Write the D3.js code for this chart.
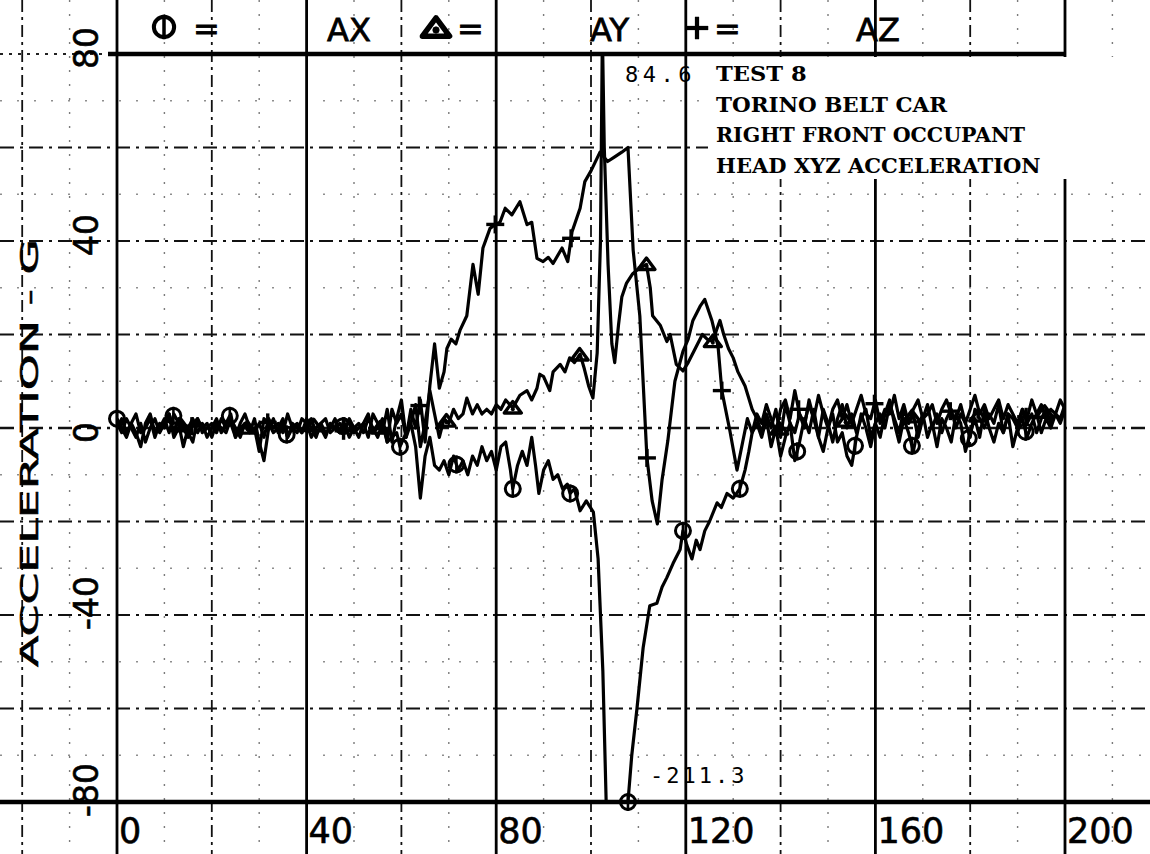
<!DOCTYPE html>
<html>
<head>
<meta charset="utf-8">
<script src="https://cdn.jsdelivr.net/npm/d3@7"></script>
<style>
html, body { margin: 0; padding: 0; background: #fff; }
svg { display: block; }
</style>
</head>
<body>
<svg id="chart" width="1150" height="854"></svg>
<script>
// quiet stretches are sampled every 1 ms, the impact pulse is given as [ms, g]
var tailStart = 135;

var axLead = [2, 0, -2, 1, -1, -4, 1, 3, -1, 0, 2, -1, 3, 1, -4, 0, 2, -1, 1, -2,
	0, 2, -1, 1, 3, -2, 0, 1, -1, 2, -3, -7, 0, 2, -1, 1, -2, 0, 1, -1,
	2, 0, -2, 1, -1, 0, 2, -1, 1, -2, 0, 1, -1, 2, 0, -2, 1, -3];
var axPulse = [[58, -2], [59, -1], [59.7, -4], [61, -1], [62, 1], [63, -4], [64, -15], [65, -6], [66, -2],
	[67, -8], [68, -9], [69, -7], [70, -10], [71, -6], [72, -9], [73, -7], [74, -10], [75, -6], [76, -8],
	[77, -4], [78, -7], [79, -5], [80, -9], [81, -4], [82, -3], [83, -9], [83.5, -13], [84.5, -8],
	[85.5, -5], [86.5, -8], [87.5, -2], [88.3, -8], [89, -14], [90, -9], [91, -7], [92, -11], [93, -10],
	[94, -13], [95, -12], [95.6, -14], [96.5, -13], [97.7, -17.7], [99, -15.6], [100.5, -18], [101.5, -28],
	[102.5, -52], [103.2, -80], [104, -130], [105, -190], [106, -211.3], [107, -170], [107.8, -80],
	[108.6, -70], [109.7, -60], [111, -47], [112.4, -38], [113.9, -37.5], [115, -34], [116, -32],
	[117.3, -29], [118.8, -26], [119.4, -22], [120.2, -25], [121.3, -28], [122.2, -24], [123, -26],
	[124, -22], [125, -20], [126.6, -16], [127.5, -17], [128.7, -14], [130, -15], [131.4, -13],
	[132.5, -9], [133.3, -5], [134, -1]];
var axTail = [1, -2, 2, -4, 0, -6, -2, 1, -7, -3, 2, -1, 4, -2, -5, 0, 3, -3, -1, -6,
	-8, -2, 3, 0, -4, 1, -2, 3, 6, 1, -3, 2, -1, -5, 0, 3, -2, 1, -4, 2,
	0, -3, 3, 1, -5, -1, 2, -2, 4, 0, -3, 1, -1, 3, -4, 0, 2, -2, 1, 3,
	-1, 2, 0, 3, 1, 4];

var ayLead = [1, -1, 2, 0, -2, 1, -3, 0, 2, -1, 1, 3, -2, 0, 1, -1, -3, 2, 0, 1,
	-2, 1, 0, -1, 2, 0, -2, 1, -1, 0, -5, 2, 1, -1, 0, 2, -2, 1, 0, -1,
	1, 2, -1, 0, -2, 1, 0, -1, 2, 1, -1, 0, 1, -2, 3, 1, -1, 4, -3, 2,
	6, -2, 1, 5, -4];
var ayPulse = [[65, 1], [66, 8], [67, 3], [68, -2], [69, 2], [70, 1], [71, 4], [72, 2], [73, 3], [73.8, 6.4],
	[75, 3], [76, 5], [77, 3], [78, 4], [79, 3], [80, 5], [81, 4], [82, 6], [83.5, 4.3], [85, 7], [86.5, 8],
	[87.5, 6], [88.6, 8.5], [89.2, 11.5], [90, 11], [91.3, 8], [92, 12], [93.5, 13.6], [94.5, 12],
	[95.5, 15], [96.5, 14], [97.7, 15.8], [98.5, 13], [99.5, 9], [100.4, 6.4], [101.3, 16], [102, 40],
	[102.4, 84.6], [102.8, 60], [103.6, 35], [104.4, 18], [105, 14], [105.8, 22], [106.5, 28],
	[107.5, 31], [108.8, 33], [110, 34], [111.7, 35], [112.5, 30], [113, 24], [114.6, 22], [116, 18.5],
	[116.7, 20], [118, 13.6], [119.4, 12.2], [120.5, 14], [122, 17], [123.5, 20], [124.5, 19],
	[125.7, 18.5], [126.5, 21], [127.2, 23], [128, 20], [129, 17], [130, 15], [131, 12], [132.5, 9], [134, 4]];
var ayTail = [2, -1, 3, 0, 4, -2, 5, 1, -1, 3, 0, 6, 2, -2, 4, 1, -3, 2, 5, 0,
	3, -1, 2, 4, -2, 1, 3, 0, 5, 2, -1, 4, 1, 3, -2, 2, 5, 0, 3, -1,
	2, 4, 0, 3, 1, -2, 4, 2, 0, 3, 1, 5, -1, 3, 2, 0, 4, 1, 3, -1,
	2, 4, 1, 3, 2, 5];

var azLead = [0, 2, -1, 1, 3, -1, 0, 2, -2, 1, 0, 3, -1, 2, 0, -2, 1, 2, -1, 0,
	1, -1, 2, 0, 1, -2, 1, 3, 0, -1, 1, -2, 2, 0, 1, -1, 3, 0, -1, 2,
	1, -2, 0, 1, 2, -1, 0, 1, -1, 2, 0, -2, 1, 3, -1, 0, 2, -3, 4, 1];
var azPulse = [[60, 3], [61, -2], [62, 4], [63, 0], [64, 6], [65, -3], [66, 9], [67, 18], [68, 8.5], [69, 12],
	[69.6, 17], [70.5, 19], [71.5, 18], [72.4, 21], [73.8, 24], [75.1, 35], [76.2, 28.6], [77.2, 38.5],
	[78.7, 42.7], [79.7, 43.5], [80.8, 44], [81.9, 47], [83.3, 45.6], [85, 48.4], [86.5, 43.5], [87.5, 44],
	[88.6, 36.3], [89.9, 35.6], [91, 36.5], [92, 35.2], [93.9, 38.5], [95.1, 35.6], [96, 42], [97.7, 47],
	[98.7, 52.7], [100, 55], [101.9, 59], [103.5, 57], [105, 58], [106.5, 59], [107.8, 60], [108.9, 38],
	[110.3, 24], [111.8, -6.4], [112.9, -15.6], [114, -20.5], [115, -11], [116.2, -2.8], [117.7, 10],
	[119.4, 16.4], [120.5, 19], [121.5, 23], [123, 26], [124, 27.5], [125.5, 23], [126.8, 17.5],
	[127.6, 8], [129.3, -0.6], [130.8, -9], [132, -3], [133, 2], [134, -1]];
var azTail = [3, 1, 5, 2, -1, 4, 6, 2, 8, 3, 1, 5, 2, 7, 3, 0, 4, 6, 2, 5,
	1, 4, 7, 3, 2, 6, 1, 4, 3, 7, 2, 5, 1, 4, 6, 2, 3, 5, 1, 4,
	6, 3, 2, 5, 1, 4, 7, 3, 5, 2, 4, 6, 2, 5, 3, 1, 4, 2, 6, 3,
	5, 2, 4, 3, 6, 4];

// symbol positions along each trace (ms)
var axMarks = [0, 11.9, 23.8, 35.8, 47.7, 59.7, 71.6, 83.5, 95.6, 107.8, 119.4, 131.4, 143.5, 155.7, 167.7, 179.7, 191.7];
var ayMarks = [13.5, 27.5, 41.5, 55.5, 69.5, 83.5, 97.6, 111.7, 125.7, 139.7, 153.7, 167.7, 181.7, 195.7];
var azMarks = [15.8, 31.8, 47.8, 63.8, 79.8, 95.8, 111.8, 127.6, 143.8, 159.8, 175.8, 191.8];

var xTicks = [0, 40, 80, 120, 160, 200];
var yTicks = [80, 40, 0, -40, -80];
var peakText = "84.6";
var minText = "-211.3";
var titleLines = ["TEST 8", "TORINO BELT CAR", "RIGHT FRONT OCCUPANT", "HEAD XYZ ACCELERATION"];

var svg = d3.select("#chart");
var W = 1150, H = 854;

var x = d3.scaleLinear().domain([0, 200]).range([117, 1065]);
var y = d3.scaleLinear().domain([-80, 80]).range([802, 54]);

function build(lead, pulse, tail) {
	var pts = lead.map(function(g, i) { return [i, g]; });
	pts = pts.concat(pulse);
	tail.forEach(function(g, i) { pts.push([tailStart + i, g]); });
	return pts;
}

var series = [
	{ name: "AX", pts: build(axLead, axPulse, axTail), marks: axMarks, sym: "circle" },
	{ name: "AY", pts: build(ayLead, ayPulse, ayTail), marks: ayMarks, sym: "tri" },
	{ name: "AZ", pts: build(azLead, azPulse, azTail), marks: azMarks, sym: "plus" }
];

function valueAt(pts, t) {
	var i = d3.bisector(function(d) { return d[0]; }).left(pts, t);
	if (i <= 0) return pts[0][1];
	if (i >= pts.length) return pts[pts.length - 1][1];
	var a = pts[i - 1], b = pts[i];
	return a[1] + (b[1] - a[1]) * (t - a[0]) / (b[0] - a[0]);
}

// ---- paper grid
var grid = svg.append("g").attr("class", "grid");

var faintX = d3.range(-10, 215, 20);
grid.selectAll("line.fx").data(faintX).enter().append("line")
	.attr("x1", function(d) { return x(d); }).attr("x2", function(d) { return x(d); })
	.attr("y1", 0).attr("y2", H)
	.attr("stroke", "#444").attr("stroke-width", 1.4)
	.attr("stroke-dasharray", "2,12").attr("opacity", 0.7);

var faintY = [70, 50, 30, 10, -10, -30, -50, -70];
grid.selectAll("line.fy").data(faintY).enter().append("line")
	.attr("x1", 0).attr("x2", W)
	.attr("y1", function(d) { return y(d); }).attr("y2", function(d) { return y(d); })
	.attr("stroke", "#444").attr("stroke-width", 1.4)
	.attr("stroke-dasharray", "2,15").attr("opacity", 0.6);

var midX = [-20, 20, 60, 100, 140, 180, 220];
grid.selectAll("line.mx").data(midX).enter().append("line")
	.attr("x1", function(d) { return x(d); }).attr("x2", function(d) { return x(d); })
	.attr("y1", 0).attr("y2", H)
	.attr("stroke", "#111").attr("stroke-width", 1.8)
	.attr("stroke-dasharray", "12,5,3,5");

var midY = [60, 40, 20, 0, -20, -40, -60];
grid.selectAll("line.my").data(midY).enter().append("line")
	.attr("x1", 0).attr("x2", W)
	.attr("y1", function(d) { return y(d); }).attr("y2", function(d) { return y(d); })
	.attr("stroke", "#111")
	.attr("stroke-width", function(d) { return d === 0 ? 2.6 : 1.9; })
	.attr("stroke-dasharray", "14,6,3,6");

grid.selectAll("line.major").data(xTicks).enter().append("line")
	.attr("x1", function(d) { return x(d); }).attr("x2", function(d) { return x(d); })
	.attr("y1", 0).attr("y2", H)
	.attr("stroke", "#000").attr("stroke-width", 2.8);

// top and bottom frame lines
grid.append("line").attr("x1", 0).attr("x2", x(0) - 9)
	.attr("y1", y(80)).attr("y2", y(80))
	.attr("stroke", "#222").attr("stroke-width", 1.8).attr("stroke-dasharray", "3,6");
grid.append("line").attr("x1", x(0) - 9).attr("x2", x(200))
	.attr("y1", y(80)).attr("y2", y(80))
	.attr("stroke", "#000").attr("stroke-width", 4.5);
grid.append("line").attr("x1", 0).attr("x2", W)
	.attr("y1", y(-80)).attr("y2", y(-80))
	.attr("stroke", "#000").attr("stroke-width", 4.5);

// title label pasted over the grid
svg.append("rect").attr("x", 708).attr("y", y(80) + 3)
	.attr("width", W - 708).attr("height", 122).attr("fill", "#fff");

// ---- traces
svg.append("clipPath").attr("id", "plotClip")
	.append("rect").attr("x", x(0)).attr("y", y(80))
	.attr("width", x(200) - x(0)).attr("height", y(-80) - y(80));

var line = d3.line()
	.x(function(d) { return x(d[0]); })
	.y(function(d) { return y(d[1]); });

var traces = svg.append("g").attr("clip-path", "url(#plotClip)");
traces.selectAll("path").data(series).enter().append("path")
	.attr("d", function(d) { return line(d.pts); })
	.attr("fill", "none")
	.attr("stroke", "#000")
	.attr("stroke-width", 3.2)
	.attr("stroke-linejoin", "round");

function drawSymbol(g, kind, cx, cy, s) {
	if (kind === "circle") {
		g.append("circle").attr("cx", cx).attr("cy", cy).attr("r", 7.5 * s)
			.attr("fill", "none").attr("stroke", "#000").attr("stroke-width", 3 * s);
		g.append("line").attr("x1", cx).attr("x2", cx)
			.attr("y1", cy - 9 * s).attr("y2", cy + 9 * s)
			.attr("stroke", "#000").attr("stroke-width", 2.6 * s);
	} else if (kind === "tri") {
		var r = 8.5 * s;
		g.append("path")
			.attr("d", "M" + (cx - r) + "," + (cy + r * 0.6) + "L" + cx + "," + (cy - r * 0.75) +
				"L" + (cx + r) + "," + (cy + r * 0.6) + "Z")
			.attr("fill", "none").attr("stroke", "#000").attr("stroke-width", 3.4 * s)
			.attr("stroke-linejoin", "round");
		g.append("circle").attr("cx", cx).attr("cy", cy + r * 0.15).attr("r", 2 * s).attr("fill", "#000");
	} else {
		var h = 9 * s;
		g.append("line").attr("x1", cx - h).attr("x2", cx + h).attr("y1", cy).attr("y2", cy)
			.attr("stroke", "#000").attr("stroke-width", 3.4 * s);
		g.append("line").attr("x1", cx).attr("x2", cx).attr("y1", cy - h).attr("y2", cy + h)
			.attr("stroke", "#000").attr("stroke-width", 3.4 * s);
	}
}

var markG = svg.append("g").attr("class", "marks");
series.forEach(function(s) {
	s.marks.forEach(function(t) {
		var v = Math.max(-80, Math.min(80, valueAt(s.pts, t)));
		drawSymbol(markG, s.sym, x(t), y(v), 1);
	});
});

// ---- legend header
var hdr = svg.append("g")
	.attr("font-family", "'DejaVu Sans', sans-serif").attr("font-size", 32)
	.attr("fill", "#000").attr("stroke", "#000").attr("stroke-width", 0.8);
drawSymbol(hdr, "circle", 164, 27, 1.35);
hdr.append("text").attr("x", 193).attr("y", 40).text("=");
hdr.append("text").attr("x", 327).attr("y", 41).text("AX");
drawSymbol(hdr, "tri", 436, 28, 1.6);
hdr.append("text").attr("x", 457).attr("y", 40).text("=");
hdr.append("text").attr("x", 590).attr("y", 41).text("AY");
drawSymbol(hdr, "plus", 697, 28, 1.25);
hdr.append("text").attr("x", 714).attr("y", 40).text("=");
hdr.append("text").attr("x", 856).attr("y", 41).text("AZ");

// ---- axis labels
svg.selectAll("text.xl").data(xTicks).enter().append("text")
	.attr("x", function(d) { return x(d) + 2; })
	.attr("y", 843)
	.attr("font-family", "'DejaVu Sans', sans-serif")
	.attr("font-size", 35)
	.attr("stroke", "#000").attr("stroke-width", 0.6)
	.text(function(d) { return d; });

svg.selectAll("text.yl").data(yTicks).enter().append("text")
	.attr("transform", function(d) { return "translate(98," + (y(d) + 15) + ") rotate(-90)"; })
	.attr("font-family", "'DejaVu Sans', sans-serif")
	.attr("font-size", 33)
	.attr("stroke", "#000").attr("stroke-width", 0.6)
	.text(function(d) { return d; });

svg.append("text")
	.attr("transform", "translate(38,667) rotate(-90) scale(1,0.8)")
	.attr("font-family", "'DejaVu Sans', sans-serif")
	.attr("font-size", 30)
	.attr("stroke", "#000").attr("stroke-width", 0.7)
	.attr("textLength", 428)
	.attr("lengthAdjust", "spacingAndGlyphs")
	.text("ACCELERATION - G");

// ---- annotations
svg.append("text").attr("x", 625).attr("y", 82)
	.attr("font-family", "'DejaVu Sans Mono', monospace").attr("font-size", 22)
	.attr("letter-spacing", 4.5).text(peakText);
svg.append("text").attr("x", 650).attr("y", 783)
	.attr("font-family", "'DejaVu Sans Mono', monospace").attr("font-size", 22)
	.attr("letter-spacing", 3).text(minText);

svg.selectAll("text.title").data(titleLines).enter().append("text")
	.attr("x", 716)
	.attr("y", function(d, i) { return 81 + i * 30.5; })
	.attr("font-family", "'DejaVu Serif', serif")
	.attr("font-weight", "bold")
	.attr("font-size", 21)
	.attr("textLength", function(d) { return d.length * 15.6 - 3; })
	.attr("lengthAdjust", "spacingAndGlyphs")
	.text(function(d) { return d; });
</script>
</body>
</html>
